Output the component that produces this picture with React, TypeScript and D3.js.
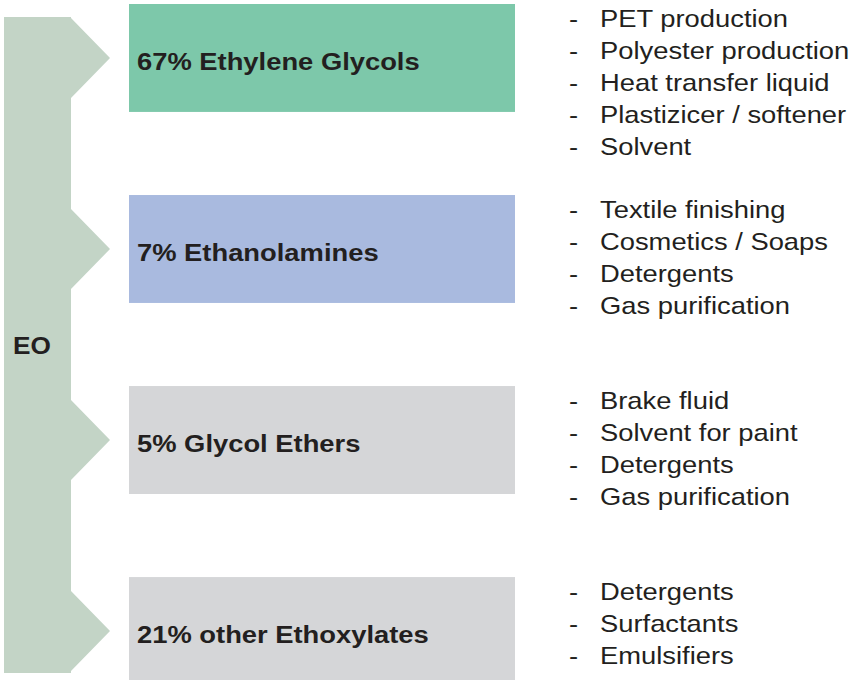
import { useEffect, useRef } from 'react'
import * as d3 from 'd3'

const source = 'EO'
const shares = [67, 7, 5, 21]
const products = ['Ethylene Glycols', 'Ethanolamines', 'Glycol Ethers', 'other Ethoxylates']
const uses = [
  ['PET production', 'Polyester production', 'Heat transfer liquid', 'Plastizicer / softener', 'Solvent'],
  ['Textile finishing', 'Cosmetics / Soaps', 'Detergents', 'Gas purification'],
  ['Brake fluid', 'Solvent for paint', 'Detergents', 'Gas purification'],
  ['Detergents', 'Surfactants', 'Emulsifiers'],
]
const boxColors = ['#7dc8aa', '#a9badf', '#d5d6d8', '#d5d6d8']

export default function App() {
  const svgRef = useRef(null)

  useEffect(() => {
    if (!svgRef.current) return

    const width = 851
    const height = 680
    const font = '"Liberation Sans", Arial, Helvetica, sans-serif'
    const ink = '#231f20'
    const stretch = 1.14

    const svg = d3.select(svgRef.current)
    svg.selectAll('*').remove()
    svg.attr('width', width).attr('height', height)

    const y = d3
      .scaleBand()
      .domain(products)
      .range([4, 685])
      .paddingInner(0.435)
      .paddingOuter(0)

    // Left EO band with arrows pointing at each box
    const bandLeft = 4
    const bandRight = 71
    const tipX = 110
    const half = 40
    const pts = [[bandLeft, 17], [bandRight, 17]]
    products.forEach(p => {
      const c = y(p) + y.bandwidth() / 2
      pts.push([bandRight, Math.max(17, c - half)], [tipX, c], [bandRight, c + half])
    })
    pts.push([bandRight, 673], [bandLeft, 673])

    svg
      .append('path')
      .attr('d', d3.line()(pts) + 'Z')
      .attr('fill', '#c3d4c6')

    svg
      .append('text')
      .attr('transform', `translate(13, 354) scale(${stretch},1)`)
      .style('font-family', font)
      .style('font-size', '23px')
      .style('font-weight', 'bold')
      .attr('fill', ink)
      .text(source)

    // Product boxes
    products.forEach((p, i) => {
      const top = y(p)
      svg
        .append('rect')
        .attr('x', 129)
        .attr('y', top)
        .attr('width', 386)
        .attr('height', y.bandwidth())
        .attr('fill', boxColors[i])

      svg
        .append('text')
        .attr('transform', `translate(137, ${top + 66}) scale(${stretch},1)`)
        .style('font-family', font)
        .style('font-size', '24px')
        .style('font-weight', 'bold')
        .attr('fill', ink)
        .text(`${shares[i]}% ${p}`)

      // Application list
      uses[i].forEach((u, j) => {
        const base = top + 22.5 + j * 32.2
        svg
          .append('text')
          .attr('transform', `translate(569, ${base}) scale(${stretch},1)`)
          .style('font-family', font)
          .style('font-size', '24px')
          .attr('fill', ink)
          .text('-')
        svg
          .append('text')
          .attr('transform', `translate(600, ${base}) scale(${stretch},1)`)
          .style('font-family', font)
          .style('font-size', '24px')
          .attr('fill', ink)
          .text(u)
      })
    })
  }, [])

  return (
    <svg
      ref={svgRef}
      style={{ position: 'absolute', left: 0, top: 0, display: 'block', background: '#fff' }}
    ></svg>
  )
}
